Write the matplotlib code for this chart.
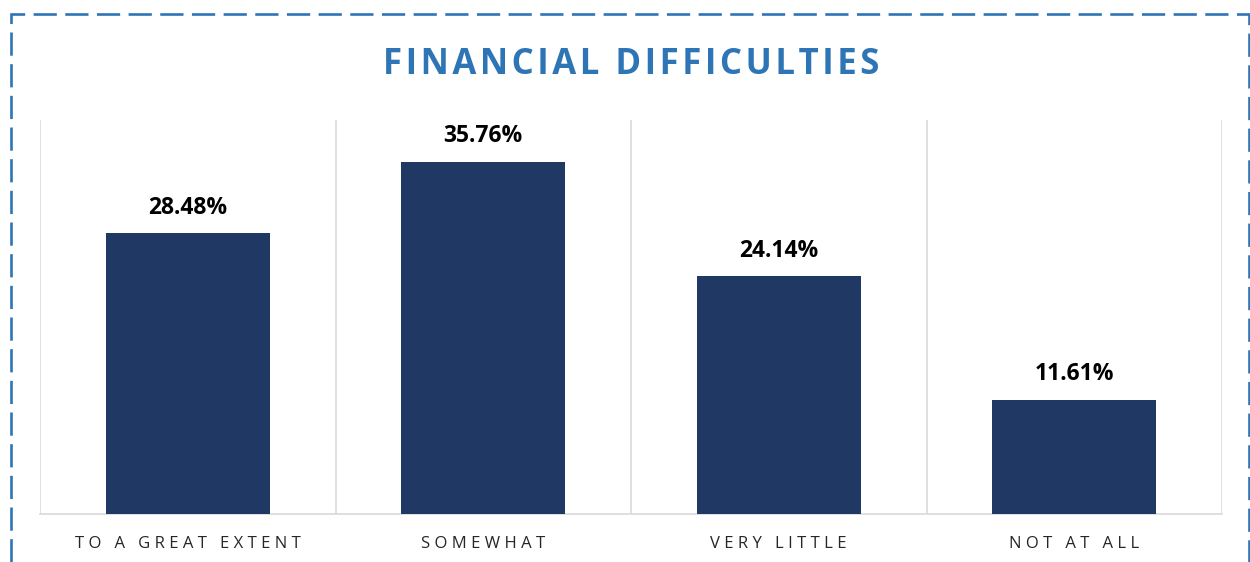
import matplotlib.pyplot as plt
from matplotlib.patches import Rectangle

categories = ["TO A GREAT EXTENT", "SOMEWHAT", "VERY LITTLE", "NOT AT ALL"]
values = [28.48, 35.76, 24.14, 11.61]
labels = ["28.48%", "35.76%", "24.14%", "11.61%"]

navy = "#203864"
blue = "#2E75B6"
grey = "#D9D9D9"


def spaced(s, sep="\u2009"):
    # poor man's letter spacing
    return sep.join(s)


plt.rcParams["font.family"] = ["Open Sans", "DejaVu Sans"]

fig = plt.figure(figsize=(12.5, 5.62), dpi=100)
ax = fig.add_axes([40 / 1250, 1 - 514 / 562, (1222 - 40) / 1250, (514 - 120) / 562])

x = range(len(categories))
ax.bar(x, values, width=0.555, color=navy, zorder=3)

for i, (v, lab) in enumerate(zip(values, labels)):
    ax.annotate(lab, (i, v), xytext=(0, 18.5), textcoords="offset points",
                ha="center", va="center", fontsize=16.5, fontweight="bold", color="black")

ax.set_xlim(-0.5, len(categories) - 0.5)
ax.set_ylim(0, 40)
for b in [-0.5, 0.5, 1.5, 2.5, 3.5]:
    ax.axvline(b, color=grey, lw=1.2, zorder=1)

ax.set_xticks(list(x))
ax.set_xticklabels([spaced(c, " ") for c in categories], fontsize=12, color="#262626")
ax.tick_params(axis="x", length=0, pad=16)
ax.set_yticks([])
for s in ["top", "left", "right"]:
    ax.spines[s].set_visible(False)
ax.spines["bottom"].set_color(grey)
ax.spines["bottom"].set_linewidth(1.2)

fig.text(631 / 1250, 1 - 65 / 562, spaced("FINANCIAL DIFFICULTIES", "\u200a"), ha="center", va="center",
         fontsize=25, fontweight="bold", color=blue)

# dashed outer border, runs off the bottom edge like the source
border = Rectangle((11 / 1250, -0.05), (1249 - 11) / 1250, 1 - 14 / 562 + 0.05,
                   transform=fig.transFigure, fill=False, edgecolor=blue, lw=1.9,
                   linestyle=(0, (8.8, 3.2)), clip_on=False)
fig.patches.append(border)

fig.savefig("out.png", dpi=100)
